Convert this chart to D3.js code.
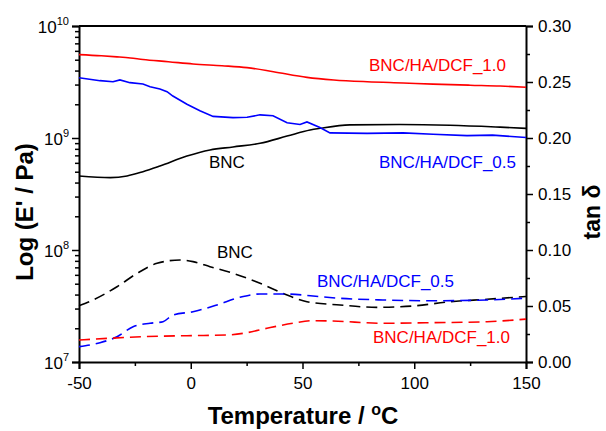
<!DOCTYPE html>
<html><head><meta charset="utf-8">
<script src="https://cdn.jsdelivr.net/npm/d3@7"></script>
<style>body{margin:0;background:#fff}text{font-family:"Liberation Sans",Arial,sans-serif}</style>
</head><body><svg id="c" width="606" height="431"></svg>
<script>
// ---- tick values ----
const xTicks = [-50, 0, 50, 100, 150];
const xMinorTicks = [-25, 25, 75, 125];
const leftTicks = [1e7, 1e8, 1e9, 1e10];
const leftTickExp = ["7", "8", "9", "10"];
const rightTicks = [0, 0.05, 0.10, 0.15, 0.20, 0.25, 0.30];
const rightMinorTicks = [0.025, 0.075, 0.125, 0.175, 0.225, 0.275];

// ---- series names / colours ----
const seriesNames = ["BNC", "BNC/HA/DCF_0.5", "BNC/HA/DCF_1.0"];
const seriesColors = ["#000000", "#0000ff", "#ff0000"];

// ---- storage modulus E' (Pa), solid lines ----
const tE_BNC = [-50, -36, -28.5, -21.4, -13.8, -1.7, 8.6, 18.9, 31, 43.1, 53.4, 57.8, 71.2, 93.6, 116, 138.4, 150];
const E_BNC  = [4.58e8, 4.43e8, 4.58e8, 5.00e8, 5.62e8, 6.90e8, 7.82e8, 8.32e8, 8.97e8, 1.04e9, 1.18e9, 1.22e9, 1.31e9, 1.32e9, 1.30e9, 1.25e9, 1.22e9];

const tE_05 = [-50, -40.6, -34.8, -31.7, -27.2, -21.4, -18.2, -13.8, -10.6, -8, -1.7, 4.1, 10, 18.9, 25.2, 31, 36.8, 43.1, 48.9, 52, 57.8, 62.3, 78.9, 95, 108.4, 123.6, 135, 150];
const E_05  = [3.45e9, 3.25e9, 3.18e9, 3.30e9, 3.12e9, 3.03e9, 2.87e9, 2.74e9, 2.59e9, 2.37e9, 2.00e9, 1.75e9, 1.56e9, 1.52e9, 1.53e9, 1.61e9, 1.58e9, 1.37e9, 1.32e9, 1.39e9, 1.24e9, 1.11e9, 1.10e9, 1.11e9, 1.08e9, 1.05e9, 1.06e9, 1.01e9];

const tE_10 = [-50, -40, -33, -27, -21.4, -10, 1, 14, 25.2, 37, 52, 64, 79, 95, 108.4, 125, 138.4, 150];
const E_10  = [5.55e9, 5.42e9, 5.30e9, 5.18e9, 5.02e9, 4.80e9, 4.58e9, 4.42e9, 4.25e9, 3.91e9, 3.48e9, 3.30e9, 3.18e9, 3.10e9, 3.03e9, 2.96e9, 2.91e9, 2.84e9];

// ---- tan delta, dashed lines ----
const tD_BNC = [-50, -43.7, -33, -24, -15.1, -4.8, 1, 8.6, 18.9, 31, 43.1, 52, 66.8, 83.3, 99.4, 116, 132.6, 150];
const D_BNC  = [0.0503, 0.0554, 0.0672, 0.0792, 0.0881, 0.0911, 0.0896, 0.0851, 0.0792, 0.0703, 0.0598, 0.0538, 0.0509, 0.0488, 0.0500, 0.0538, 0.0560, 0.0585];

const tD_05 = [-50, -40.6, -33, -25.8, -18.2, -12.4, -7.9, 1, 11.7, 22, 31, 43.1, 54.7, 66.8, 86, 108.4, 132.6, 150];
const D_05  = [0.0137, 0.0172, 0.0226, 0.0315, 0.0346, 0.0360, 0.0420, 0.0449, 0.0509, 0.0578, 0.0607, 0.0607, 0.0589, 0.0569, 0.0554, 0.0547, 0.0554, 0.0570];

const tD_10 = [-50, -36.1, -21.4, -1.7, 16.2, 25.2, 34.1, 45.7, 54.7, 63.6, 86, 108.4, 132.6, 150];
const D_10  = [0.0196, 0.0212, 0.0226, 0.0235, 0.0241, 0.0262, 0.0301, 0.0346, 0.0369, 0.0366, 0.0346, 0.0351, 0.0360, 0.0383];

// ---- layout ----
const svg = d3.select("#c");
const L = 79, R = 526, T = 26, B = 362;
const x = d3.scaleLinear().domain([-50, 150]).range([L, R]);
const yL = d3.scaleLog().domain([1e7, 1e10]).range([B, T]);
const yR = d3.scaleLinear().domain([0, 0.30]).range([B, T]);

const zip = (a, b) => a.map((v, i) => [v, b[i]]);

// frame (top border)
svg.append("line").attr("x1", L).attr("x2", R).attr("y1", T).attr("y2", T)
  .attr("stroke", "#000").attr("stroke-width", 2);

// bottom axis
svg.append("g").attr("transform", `translate(0,${B})`)
  .call(d3.axisBottom(x).tickValues(xTicks).tickSize(7).tickPadding(8).tickFormat(d => String(d)));
svg.append("g").attr("transform", `translate(0,${B})`)
  .call(d3.axisBottom(x).tickValues(xMinorTicks).tickSize(4).tickFormat(""))
  .call(g => g.select(".domain").remove());

// left axis
const leftMinor = [];
[1e7, 1e8, 1e9].forEach(d => { for (let k = 2; k <= 9; k++) leftMinor.push(d * k); });
svg.append("g").attr("transform", `translate(${L},0)`)
  .call(d3.axisLeft(yL).tickValues(leftTicks).tickSize(7).tickFormat(""));
svg.append("g").attr("transform", `translate(${L},0)`)
  .call(d3.axisLeft(yL).tickValues(leftMinor).tickSize(4).tickFormat(""))
  .call(g => g.select(".domain").remove());

// right axis
svg.append("g").attr("transform", `translate(${R},0)`)
  .call(d3.axisRight(yR).tickValues(rightTicks).tickSize(7).tickPadding(5).tickFormat(d3.format(".2f")));
svg.append("g").attr("transform", `translate(${R},0)`)
  .call(d3.axisRight(yR).tickValues(rightMinorTicks).tickSize(4).tickFormat(""))
  .call(g => g.select(".domain").remove());

svg.selectAll(".domain").attr("stroke", "#000").attr("stroke-width", 2);
svg.selectAll(".tick line").attr("stroke", "#000").attr("stroke-width", 1.5);
svg.selectAll(".tick text").attr("font-size", 17).attr("fill", "#000")
  .attr("font-family", "'Liberation Sans',Arial,sans-serif");

// left tick labels with superscripts
leftTicks.forEach((v, i) => {
  const t = svg.append("text").attr("x", L - 10).attr("y", yL(v) + 7)
    .attr("text-anchor", "end").attr("font-size", 17).attr("fill", "#000");
  t.append("tspan").text("10");
  t.append("tspan").attr("font-size", 11).attr("dy", -8).text(leftTickExp[i]);
});

// lines
const lineE = d3.line().x(d => x(d[0])).y(d => yL(d[1]));
const lineD = d3.line().x(d => x(d[0])).y(d => yR(d[1])).curve(d3.curveMonotoneX);
const lineES = d3.line().x(d => x(d[0])).y(d => yL(d[1])).curve(d3.curveMonotoneX);

const solid = [[tE_BNC, E_BNC, lineES], [tE_05, E_05, lineE], [tE_10, E_10, lineES]];
solid.forEach((s, i) => {
  svg.append("path").datum(zip(s[0], s[1])).attr("d", s[2])
    .attr("fill", "none").attr("stroke", seriesColors[i]).attr("stroke-width", 1.6);
});
const dashed = [[tD_BNC, D_BNC], [tD_05, D_05], [tD_10, D_10]];
dashed.forEach((s, i) => {
  svg.append("path").datum(zip(s[0], s[1])).attr("d", lineD)
    .attr("fill", "none").attr("stroke", seriesColors[i]).attr("stroke-width", 1.6)
    .attr("stroke-dasharray", "11,6");
});

// in-plot labels
const labels = [
  [seriesNames[2], 369, 71, seriesColors[2]],
  [seriesNames[1], 379, 168, seriesColors[1]],
  [seriesNames[0], 209, 168, seriesColors[0]],
  [seriesNames[0], 217, 258, seriesColors[0]],
  [seriesNames[1], 317, 287, seriesColors[1]],
  [seriesNames[2], 373, 343, seriesColors[2]]
];
labels.forEach(l => {
  svg.append("text").attr("x", l[1]).attr("y", l[2]).attr("font-size", 17)
    .attr("fill", l[3]).text(l[0]);
});

// axis titles
const xt = svg.append("text").attr("x", 303).attr("y", 424).attr("text-anchor", "middle")
  .attr("font-size", 24).attr("font-weight", "bold");
xt.append("tspan").text("Temperature / ");
xt.append("tspan").attr("font-size", 16).attr("dy", -9).text("o");
xt.append("tspan").attr("dy", 9).text("C");

svg.append("text").attr("transform", "translate(33,212) rotate(-90)")
  .attr("text-anchor", "middle").attr("font-size", 24).attr("font-weight", "bold")
  .text("Log (E' / Pa)");

svg.append("text").attr("transform", "translate(600,212) rotate(-90)")
  .attr("text-anchor", "middle").attr("font-size", 23).attr("font-weight", "bold")
  .text("tan δ");
</script></body></html>
